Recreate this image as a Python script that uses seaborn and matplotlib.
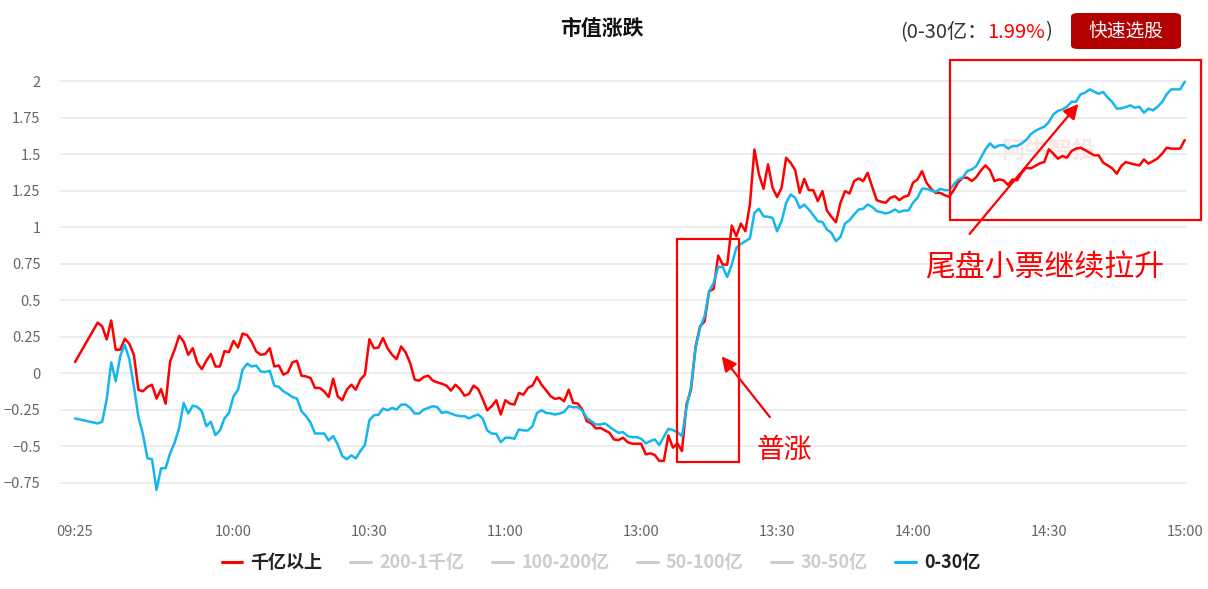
import matplotlib
matplotlib.use("Agg")
import matplotlib.pyplot as plt
import seaborn as sns
import pandas as pd
from matplotlib.lines import Line2D
from matplotlib.patches import Rectangle, FancyBboxPatch
from matplotlib.transforms import offset_copy

# ---------------- data ----------------
# minutes since 09:25 (lunch break compressed: 11:30 == 13:00 == 125)
minutes = [0] + list(range(5, 246))

big_cap = [0.075,
    0.345, 0.32, 0.23, 0.36, 0.16, 0.16, 0.235, 0.2, 0.125, -0.115,
    -0.125, -0.095, -0.08, -0.175, -0.11, -0.21, 0.08, 0.16, 0.255, 0.215,
    0.125, 0.17, 0.07, 0.027, 0.085, 0.13, 0.045, 0.045, 0.15, 0.143,
    0.22, 0.175, 0.27, 0.26, 0.215, 0.148, 0.125, 0.13, 0.17, 0.045,
    0.052, -0.011, 0.005, 0.073, 0.084, -0.018, -0.023, -0.034, -0.102, -0.102,
    -0.125, -0.164, -0.039, -0.16, -0.186, -0.114, -0.08, -0.114, -0.045, -0.011,
    0.232, 0.17, 0.175, 0.24, 0.17, 0.125, 0.095,
    0.182, 0.141, 0.068, -0.045, -0.052, -0.027, -0.018, -0.052, -0.064, -0.073,
    -0.086, -0.12, -0.08, -0.109, -0.155, -0.143, -0.086, -0.109, -0.177, -0.255,
    -0.227, -0.186, -0.284, -0.186, -0.209, -0.216, -0.136, -0.148, -0.102, -0.086,
    -0.027, -0.08, -0.118, -0.159, -0.177, -0.17, -0.193, -0.114, -0.205, -0.209,
    -0.25, -0.33, -0.345, -0.38, -0.375, -0.393, -0.409, -0.455, -0.459, -0.443,
    -0.473, -0.484, -0.484, -0.484, -0.557, -0.55, -0.561, -0.602, -0.602, -0.427,
    -0.511, -0.482, -0.534, -0.215, -0.115, 0.18,
    0.32, 0.354, 0.56, 0.576, 0.805, 0.743, 0.743, 1.01, 0.937, 1.024,
    0.971, 1.154, 1.531, 1.36, 1.262, 1.429, 1.269, 1.205, 1.269, 1.474,
    1.44, 1.39, 1.234, 1.33, 1.253, 1.253, 1.177, 1.246, 1.113, 1.07,
    1.033, 1.166, 1.246, 1.23, 1.314, 1.333, 1.314, 1.371, 1.275, 1.184,
    1.173, 1.166, 1.2, 1.211, 1.184, 1.207, 1.216, 1.303, 1.326, 1.383,
    1.303, 1.262, 1.234, 1.234, 1.218, 1.207, 1.253, 1.307,
    1.338, 1.338, 1.315, 1.342, 1.388, 1.422, 1.39, 1.315, 1.326, 1.32,
    1.288, 1.326, 1.32, 1.372, 1.406, 1.402, 1.418, 1.436, 1.445, 1.532,
    1.502, 1.468, 1.486, 1.475, 1.521, 1.537, 1.543, 1.527, 1.509, 1.491,
    1.491, 1.441, 1.422, 1.402, 1.365, 1.418, 1.445, 1.436, 1.429, 1.422,
    1.463, 1.434, 1.452, 1.47, 1.502, 1.543, 1.537, 1.537, 1.537, 1.596]

small_cap = [-0.311,
    -0.345, -0.334, -0.18, 0.073, -0.057, 0.118, 0.193, 0.095, -0.09, -0.3,
    -0.42, -0.584, -0.59, -0.8, -0.652, -0.652, -0.55, -0.477, -0.375, -0.205,
    -0.277, -0.223, -0.232, -0.261, -0.364, -0.334, -0.425, -0.393, -0.311, -0.273,
    -0.159, -0.114, 0.023, 0.064, 0.045, 0.052, 0.011, 0.007, 0.016, -0.086,
    -0.095, -0.125, -0.143, -0.164, -0.175, -0.261, -0.295, -0.34, -0.414, -0.414,
    -0.414, -0.461, -0.432, -0.489, -0.568, -0.59, -0.564, -0.584, -0.534, -0.493,
    -0.323, -0.289, -0.286, -0.243, -0.255, -0.239, -0.25,
    -0.216, -0.216, -0.239, -0.277, -0.277, -0.25, -0.239, -0.227, -0.234,
    -0.273, -0.266, -0.277, -0.289, -0.295, -0.295, -0.311, -0.295, -0.284, -0.311,
    -0.393, -0.414, -0.416, -0.473, -0.443, -0.443, -0.45, -0.386, -0.393, -0.393,
    -0.364, -0.273, -0.255, -0.273, -0.277, -0.284, -0.277, -0.266, -0.227, -0.234,
    -0.234, -0.257, -0.307, -0.33, -0.352, -0.352, -0.345, -0.368, -0.391, -0.409,
    -0.405, -0.432, -0.439, -0.439, -0.45, -0.482, -0.466, -0.455, -0.493, -0.436,
    -0.382, -0.391, -0.405, -0.432, -0.24, -0.093, 0.17,
    0.309, 0.389, 0.56, 0.617, 0.727, 0.727, 0.658, 0.743, 0.857, 0.885,
    0.903, 0.921, 1.097, 1.125, 1.074, 1.07, 1.063, 0.971, 1.04, 1.166,
    1.223, 1.2, 1.131, 1.154, 1.12, 1.081, 1.04, 1.035, 0.983, 0.96,
    0.903, 0.933, 1.024, 1.047, 1.086, 1.12, 1.125, 1.154, 1.138, 1.109,
    1.102, 1.093, 1.102, 1.12, 1.102, 1.113, 1.113, 1.166, 1.2, 1.262,
    1.262, 1.25, 1.241, 1.262, 1.253, 1.253, 1.291, 1.326,
    1.338, 1.384, 1.395, 1.418, 1.475, 1.532, 1.573, 1.543, 1.559, 1.562,
    1.537, 1.555, 1.555, 1.573, 1.596, 1.635, 1.658, 1.674, 1.687, 1.719,
    1.772, 1.795, 1.806, 1.824, 1.858, 1.858, 1.909, 1.92, 1.943, 1.927,
    1.913, 1.925, 1.886, 1.856, 1.811, 1.813, 1.822, 1.833, 1.817, 1.824,
    1.783, 1.811, 1.799, 1.824, 1.856, 1.909, 1.943, 1.943, 1.943, 1.995]

legend_labels = ["千亿以上", "200-1千亿", "100-200亿", "50-100亿", "30-50亿", "0-30亿"]
tick_minutes = [0, 35, 65, 95, 125, 155, 185, 215, 245]
tick_labels = ["09:25", "10:00", "10:30", "11:00", "13:00", "13:30", "14:00", "14:30", "15:00"]
y_ticks = [-0.75, -0.5, -0.25, 0, 0.25, 0.5, 0.75, 1, 1.25, 1.5, 1.75, 2]
y_labels = ["−0.75", "−0.5", "−0.25", "0", "0.25", "0.5", "0.75", "1", "1.25", "1.5", "1.75", "2"]

RED = "#ff0000"
BLUE = "#14b6ef"
GREY = "#cccccc"

# ---------------- style ----------------
sns.set_theme(style="white")
plt.rcParams["font.family"] = ["Noto Sans CJK SC", "DejaVu Sans"]
plt.rcParams["axes.unicode_minus"] = True

df = pd.concat([
    pd.DataFrame({"t": minutes, "v": big_cap, "s": "千亿以上"}),
    pd.DataFrame({"t": minutes, "v": small_cap, "s": "0-30亿"}),
])

fig = plt.figure(figsize=(12.08, 5.89), dpi=100)
ax = fig.add_axes([60 / 1208, 79 / 589, 1127 / 1208, 450 / 589])

sns.lineplot(data=df, x="t", y="v", hue="s", palette={"千亿以上": RED, "0-30亿": BLUE},
             linewidth=1.8, legend=False, ax=ax, zorder=3)

ax.set_xlim(-3.31, 245.5)
ax.set_ylim(-0.938, 2.144)
for s in ax.spines.values():
    s.set_visible(False)
ax.set_yticks(y_ticks)
ax.set_yticklabels(y_labels)
ax.set_xticks(tick_minutes)
ax.set_xticklabels(tick_labels)
ax.tick_params(axis="y", length=0, pad=14, labelsize=10.5, labelcolor="#666666")
ax.tick_params(axis="x", length=0, pad=11, labelsize=10.5, labelcolor="#666666")
ax.set_xlabel("")
ax.set_ylabel("")
ax.yaxis.grid(True, color="#ececec", linewidth=1.3)
ax.xaxis.grid(False)
ax.set_axisbelow(True)

# watermark
ax.text(215, 1.52, "阿牛智投", fontsize=17, fontweight="bold", color="#fae6e6",
        ha="center", va="center", zorder=1)

# annotations
ax.add_patch(Rectangle((132.9, -0.61), 13.7, 1.528, fill=False, edgecolor=RED,
                       linewidth=1.6, clip_on=False, zorder=4))
ax.add_patch(Rectangle((193.2, 1.048), 55.4, 1.096, fill=False, edgecolor=RED,
                       linewidth=1.6, clip_on=False, zorder=4))
ax.annotate("", xy=(142.4, 0.13), xytext=(153.8, -0.317),
            arrowprops=dict(arrowstyle="-|>", color=RED, lw=1.6, mutation_scale=22),
            zorder=5)
ax.annotate("", xy=(221.9, 1.858), xytext=(197.1, 0.938),
            arrowprops=dict(arrowstyle="-|>", color=RED, lw=1.6, mutation_scale=22),
            zorder=5, annotation_clip=False)
ax.text(156.7, -0.527, "普涨", fontsize=20, color=RED, ha="center", va="center")
ax.text(214.1, 0.719, "尾盘小票继续拉升", fontsize=21.5, color=RED, ha="center", va="center")

# title and top-right info
fig.text(602 / 1208, 1 - 28 / 589, "市值涨跌", ha="center", va="center",
         fontsize=15, fontweight="bold", color="#111111")
yt = 1 - 32 / 589
renderer = fig.canvas.get_renderer()
x_px = 900
for piece, col in [("(0-30亿：", "#333333"), ("1.99%", RED), (")", "#333333")]:
    t = fig.text(x_px / 1208, yt, piece, ha="left", va="center", fontsize=14.5, color=col)
    x_px += t.get_window_extent(renderer=renderer).width
btn = FancyBboxPatch((1071 / 1208, 1 - 49 / 589), 110 / 1208, 36 / 589,
                     boxstyle="round,pad=0,rounding_size=0.006",
                     transform=fig.transFigure, facecolor="#b30000", edgecolor="none")
fig.patches.append(btn)
fig.text(1126 / 1208, 1 - 31 / 589, "快速选股", ha="center", va="center",
         fontsize=13.5, color="white")

# legend
colors = [RED, GREY, GREY, GREY, GREY, BLUE]
handles = [Line2D([], [], color=c, linewidth=2.2) for c in colors]
leg = fig.legend(handles, legend_labels, ncol=6, loc="center",
                 bbox_to_anchor=(601 / 1208, 1 - 563 / 589), frameon=False,
                 handlelength=1.15, handletextpad=0.45, columnspacing=1.55,
                 prop={"size": 13, "weight": "bold"})
for txt, c in zip(leg.get_texts(), ["#222222", GREY, GREY, GREY, GREY, "#222222"]):
    txt.set_color(c)

fig.savefig("out.png", dpi=100)
